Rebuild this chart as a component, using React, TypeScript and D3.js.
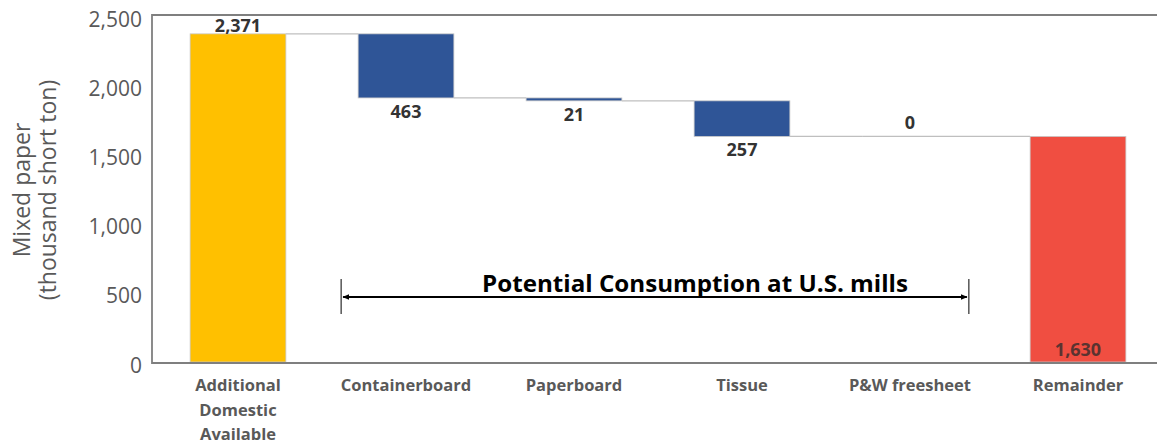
import React from "react";
import * as d3 from "d3";

const categories = ["Additional Domestic Available", "Containerboard", "Paperboard", "Tissue", "P&W freesheet", "Remainder"];
const categoryLines = [["Additional", "Domestic", "Available"], ["Containerboard"], ["Paperboard"], ["Tissue"], ["P&W freesheet"], ["Remainder"]];
const startValue = 2371;
const decrements = [463, 21, 257, 0];
const remainderValue = 1630;
const yTicks = [0, 500, 1000, 1500, 2000, 2500];
const annotationText = "Potential Consumption at U.S. mills";

const W = 1157;
const H = 446;
const FONT = "'Open Sans', 'Noto Sans', sans-serif";

type Bar = { cat: string; y0: number; y1: number; kind: "total" | "dec" | "rem"; value: number };

export default function App() {
  const bars: Bar[] = [];
  bars.push({ cat: categories[0], y0: 0, y1: startValue, kind: "total", value: startValue });
  let level = startValue;
  decrements.forEach((d, i) => {
    bars.push({ cat: categories[i + 1], y0: level - d, y1: level, kind: "dec", value: d });
    level -= d;
  });
  bars.push({ cat: categories[5], y0: 0, y1: remainderValue, kind: "rem", value: remainderValue });

  const x = d3.scaleBand<string>().domain(categories).range([154, 1162]).paddingInner(0.43).paddingOuter(0.215);
  const y = d3.scaleLinear().domain([0, 2500]).range([362, 16]);
  const fmt = d3.format(",");
  const bw = x.bandwidth();

  const color = (k: Bar["kind"]) => (k === "total" ? "#FFC000" : k === "dec" ? "#2F5597" : "#F04E41");

  const connectors: { x1: number; x2: number; v: number }[] = [];
  for (let i = 0; i < bars.length - 1; i++) {
    const b = bars[i];
    const v = b.kind === "total" ? b.y1 : b.y0;
    const x1 = b.value === 0 ? (x(b.cat) as number) : (x(b.cat) as number) + bw;
    connectors.push({ x1, x2: x(bars[i + 1].cat) as number, v });
  }

  const axLeft = 152;
  const arrowX1 = (x(categories[1]) as number) - 17;
  const arrowX2 = (x(categories[4]) as number) + bw + 11;
  const arrowY = 297;

  return (
    <svg width={W} height={H} style={{ display: "block", position: "absolute", left: 0, top: 0 }} fontFamily={FONT}>
      <defs>
        <marker id="ah" viewBox="0 0 10 10" refX="9" refY="5" markerWidth="7" markerHeight="7" orient="auto-start-reverse" markerUnits="userSpaceOnUse">
          <path d="M0,1 L10,5 L0,9 z" fill="#000" />
        </marker>
      </defs>
      {connectors.map((c, i) => (
        <line key={i} x1={c.x1} x2={c.x2} y1={y(c.v)} y2={y(c.v)} stroke="#bfbfbf" strokeWidth={1.2} />
      ))}
      {bars.map((b, i) =>
        b.value === 0 ? null : (
          <rect key={i} x={x(b.cat)} y={y(b.y1)} width={bw} height={Math.max(0, y(b.y0) - y(b.y1))} fill={color(b.kind)} stroke="#c8c8c8" strokeWidth={0.8} />
        )
      )}
      <line x1={axLeft} x2={W} y1={y(2500) - 1} y2={y(2500) - 1} stroke="#7f7f7f" strokeWidth={1.8} />
      <line x1={axLeft} x2={W} y1={y(0) + 1} y2={y(0) + 1} stroke="#7f7f7f" strokeWidth={1.8} />
      <line x1={axLeft} x2={axLeft} y1={y(2500) - 1.9} y2={y(0) + 1.9} stroke="#7f7f7f" strokeWidth={1.8} />
      {yTicks.map((t) => (
        <text key={t} x={142} y={y(t) + 3} dy="0.36em" textAnchor="end" fontSize={21} fill="#595959">
          {fmt(t)}
        </text>
      ))}
      <text transform={`translate(30,190) rotate(-90)`} textAnchor="middle" fontSize={23} fill="#595959">
        Mixed paper
      </text>
      <text transform={`translate(56,190) rotate(-90)`} textAnchor="middle" fontSize={23} fill="#595959">
        (thousand short ton)
      </text>
      {categories.map((c, i) => (
        <text key={c} x={(x(c) as number) + bw / 2} y={391} textAnchor="middle" fontSize={16.5} fontWeight="bold" fill="#595959">
          {categoryLines[i].map((ln, j) => (
            <tspan key={j} x={(x(c) as number) + bw / 2} dy={j === 0 ? 0 : 24.5}>
              {ln}
            </tspan>
          ))}
        </text>
      ))}
      {bars.map((b, i) => {
        const cx = (x(b.cat) as number) + bw / 2;
        let ty: number;
        let fill = "#333";
        if (b.kind === "total") ty = y(b.y1) - 2;
        else if (b.kind === "rem") {
          ty = y(0) - 6;
          fill = "#5a3330";
        } else if (b.value === 0) ty = y(b.y1) - 7;
        else ty = y(b.y0) + 20;
        return (
          <text key={i} x={cx} y={ty} textAnchor="middle" fontSize={18} fontWeight="bold" fill={fill}>
            {fmt(b.value)}
          </text>
        );
      })}
      <line x1={arrowX1} x2={arrowX1} y1={279} y2={314} stroke="#000" strokeWidth={1} />
      <line x1={arrowX2} x2={arrowX2} y1={279} y2={314} stroke="#000" strokeWidth={1} />
      <line x1={arrowX1 + 2} x2={arrowX2 - 2} y1={arrowY} y2={arrowY} stroke="#000" strokeWidth={2} markerStart="url(#ah)" markerEnd="url(#ah)" />
      <text x={695} y={292} textAnchor="middle" fontSize={23} fontWeight="bold" fill="#000" textLength={426} lengthAdjust="spacingAndGlyphs">
        {annotationText}
      </text>
    </svg>
  );
}
